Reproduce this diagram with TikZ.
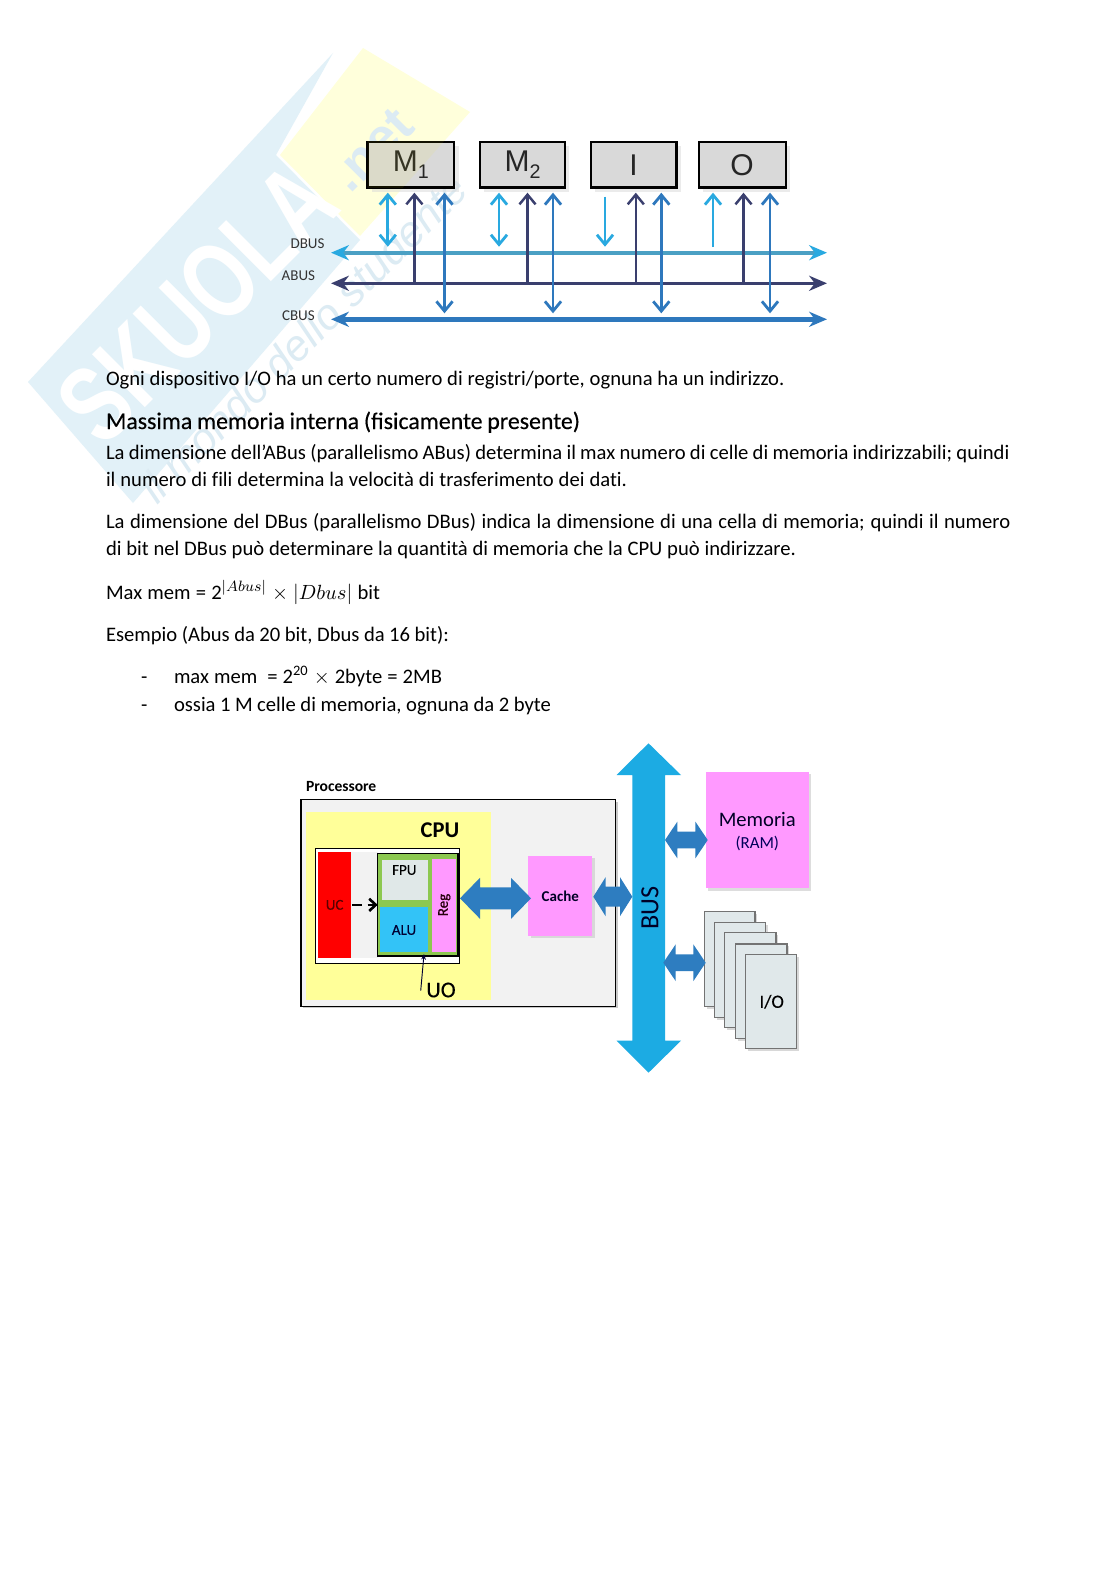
\documentclass[tikz,border=0pt]{standalone}
\usepackage{fontspec}
\setmainfont[Ligatures=NoCommon]{Carlito}
\newfontfamily\arialf{Liberation Sans}
\newfontfamily\semif[FakeBold=0.35]{Carlito}
\usetikzlibrary{arrows.meta,shadows,calc}
\def\px{0.5332pt}
\definecolor{wmblue}{HTML}{E2F1F8}
\definecolor{wmyel}{HTML}{FFFFDB}
\definecolor{wmtext}{HTML}{DCEBF3}
\definecolor{dcol}{HTML}{29A9E0}
\definecolor{dbar}{HTML}{4BA0C4}
\definecolor{acol}{HTML}{3A3F6E}
\definecolor{ccol}{HTML}{2E78BD}
\definecolor{pinkc}{HTML}{FF99FF}
\definecolor{yelc}{HTML}{FFFF99}
\definecolor{procc}{HTML}{F2F2F2}
\definecolor{greenc}{HTML}{8CC850}
\definecolor{busc}{HTML}{1CABE3}
\definecolor{blockc}{HTML}{2E7DC0}
\definecolor{cardc}{HTML}{E0E8EA}
\definecolor{fpuc}{HTML}{E0E8E8}
\definecolor{aluc}{HTML}{33C3F7}
\newcommand{\rectnode}[7]{%
  \pgfmathsetmacro\cxx{(#3+#5)/2}%
  \pgfmathsetmacro\cyy{(#4+#6)/2}%
  \node[#1,minimum width={(#5-#3)*\px},minimum height={(#6-#4)*\px}] (#2) at (\cxx,\cyy) {#7};}
% horizontal two-headed block arrow: left tip, right tip, centre y, half shaft, half head, head length
\newcommand{\harrow}[6]{%
  \fill[blockc] (#1,#3) -- ++(#6,-#5) -- ++(0,#5-#4) -- ({#2-#6},{#3-#4}) -- ++(0,#4-#5) -- (#2,#3)
     -- ({#2-#6},{#3+#5}) -- ++(0,#4-#5) -- ({#1+#6},{#3+#4}) -- ++(0,#5-#4) -- cycle;}
\newcommand{\fitline}[2]{\makebox[#1\dimexpr\px\relax][s]{#2}}
\tikzset{
  x=0.5332pt,y=-0.5332pt,
  plain/.style={inner sep=0pt,outer sep=0pt},
  softshadow/.style={drop shadow={shadow xshift=1.2pt,shadow yshift=-1.2pt,fill=black!22,opacity=.6}},
  devbox/.style={plain,draw=black,line width=1.1pt,fill=black!15,drop shadow={shadow xshift=2.2pt,shadow yshift=-2.2pt,fill=black!15,opacity=.5},text=black!85,font=\arialf\fontsize{16}{16}\selectfont},
  line/.style={plain,anchor=base west,font=\fontsize{11}{13}\selectfont},
  buslabel/.style={plain,font=\fontsize{8}{8}\selectfont,text=black!80},
  barb/.tip={Straight Barb[length=5.2pt,width=8.6pt]},
  dv/.style={draw=dcol,line width=1.5pt},
  av/.style={draw=acol,line width=1.3pt},
  cv/.style={draw=ccol,line width=1.5pt},
  dbus/.style={draw=dbar,line width=2.3pt,{Stealth[length=9.5pt,width=8pt,inset=3pt,color=dcol]}-{Stealth[length=9.5pt,width=8pt,inset=3pt,color=dcol]}},
  abus/.style={draw=acol,line width=1.9pt,{Stealth[length=9.5pt,width=8pt,inset=3pt]}-{Stealth[length=9.5pt,width=8pt,inset=3pt]}},
  cbus/.style={draw=ccol,line width=2.5pt,{Stealth[length=9.5pt,width=8pt,inset=3pt]}-{Stealth[length=9.5pt,width=8pt,inset=3pt]}},
  pinkbox/.style={plain,fill=pinkc,softshadow,text=black!85!blue},
  card/.style={plain,fill=cardc,draw=black!55,line width=.6pt,drop shadow={shadow xshift=1.2pt,shadow yshift=-1.2pt,fill=black!30,opacity=.5}},
  small/.style={plain,font=\semif\fontsize{8}{8}\selectfont},
}
\begin{document}
\begin{tikzpicture}
\fill[white] (0,0) rectangle (1116,1579);
\useasboundingbox (0,0) rectangle (1116,1579);

% ---- watermark
\fill[wmyel] (363,48) -- (470,112) -- (360,236) -- (280,155) -- cycle;
\fill[wmblue] (28,382) -- (333,53) -- (276,155) -- (360,240) -- (133,503) -- cycle;
\node[plain,rotate=45,text=white,font=\arialf\bfseries\fontsize{58}{58}\selectfont] (wm1) at (197,303) {\scalebox{.74}[1]{SKUOLA}};
\node[plain,rotate=45,text=wmtext,font=\arialf\bfseries\fontsize{28}{28}\selectfont] (wm2) at (372,150) {.net};
\node[plain,rotate=45,text=wmtext,font=\arialf\itshape\fontsize{23}{23}\selectfont] (wm3) at (303,338) {il mondo dello studente};

% ---- upper diagram
\rectnode{devbox}{m1}{367.5}{142}{454.4}{187.5}{M\raisebox{-3.5pt}{\fontsize{10.5}{10.5}\selectfont 1}}
\rectnode{devbox}{m2}{479.8}{142}{565.3}{187.5}{M\raisebox{-3.5pt}{\fontsize{10.5}{10.5}\selectfont 2}}
\rectnode{devbox}{io}{590.7}{142}{676.5}{187.5}{I}
\rectnode{devbox}{oo}{698.7}{142}{785.6}{187.5}{O}
\begin{scope}
  \clip (m1.south west) rectangle (m1.north east);
  \fill[yellow,opacity=.07] (363,48) -- (470,112) -- (360,236) -- (280,155) -- cycle;
\end{scope}

\coordinate (dl) at (331,252.7); \coordinate (dr) at (827,252.7);
\coordinate (al) at (331,283.3); \coordinate (ar) at (827,283.3);
\coordinate (cl) at (331,319.3); \coordinate (cr) at (827,319.3);
\draw[dbus] (dl) -- (dr);
\draw[abus] (al) -- (ar);
\draw[cbus] (cl) -- (cr);

\node[buslabel] (dlab) at (307.5,243.5) {DBUS};
\node[buslabel] (alab) at (298.4,275.5) {ABUS};
\node[buslabel] (clab) at (298.4,315.5) {CBUS};

\foreach \nm/\xd/\xa/\xc in {a/387.8/414.4/444.5,b/499/527.5/553,c/605/635.8/661.3,d/713/743.5/770}{
  \coordinate (\nm dt) at (\xd,192.7); \coordinate (\nm db) at (\xd,246.7);
  \coordinate (\nm at) at (\xa,192.7); \coordinate (\nm ab) at (\xa,283.3);
  \coordinate (\nm ct) at (\xc,192.7); \coordinate (\nm cb) at (\xc,313.3);
  \draw[av,-{barb}] (\nm ab) -- (\nm at);
  \draw[cv,{barb}-{barb}] (\nm ct) -- (\nm cb);
}
\draw[dv,{barb}-{barb}] (adt) -- (adb);
\draw[dv,{barb}-{barb}] (bdt) -- (bdb);
\coordinate (cds) at (605,196.7);
\draw[dv,-{barb}] (cds) -- (cdb);
\coordinate (dds) at (713,247);
\draw[dv,-{barb}] (dds) -- (ddt);

% ---- text
\node[line] (t1) at (106,385) {\fitline{678.5}{Ogni dispositivo I/O ha un certo numero di registri/porte, ognuna ha un indirizzo.}};
\node[line,font=\semif\fontsize{12.7}{15}\selectfont] (t2) at (106,429) {\fitline{474}{Massima memoria interna (fisicamente presente)}};
\node[line] (t3) at (106,459) {\fitline{903.5}{La dimensione dell’ABus (parallelismo ABus) determina il max numero di celle di memoria indirizzabili; quindi}};
\node[line] (t4) at (106,486) {\fitline{521}{il numero di fili determina la velocità di trasferimento dei dati.}};
\node[line] (t5) at (106,528) {\fitline{904.5}{La dimensione del DBus (parallelismo DBus) indica la dimensione di una cella di memoria; quindi il numero}};
\node[line] (t6) at (106,555) {\fitline{690}{di bit nel DBus può determinare la quantità di memoria che la CPU può indirizzare.}};
\node[line] (t7) at (106,599) {\fitline{274}{Max mem = 2$^{|Abus|}$ $\times$ $|Dbus|$ bit}};
\node[line] (t8) at (106,641) {\fitline{343}{Esempio (Abus da 20 bit, Dbus da 16 bit):}};
\node[line] (d1) at (141,683) {-};
\node[line] (t9) at (174,683) {\fitline{268}{max mem\ \ = 2\textsuperscript{20} $\times$ 2byte = 2MB}};
\node[line] (d2) at (141,711) {-};
\node[line] (t10) at (174,711) {\fitline{377}{ossia 1 M celle di memoria, ognuna da 2 byte}};

% ---- lower diagram
\node[plain,anchor=base west,font=\bfseries\fontsize{8.3}{8}\selectfont] (plab) at (306,791.5) {Processore};
\rectnode{plain,draw=black,line width=.6pt,fill=procc,drop shadow={shadow xshift=1pt,shadow yshift=-1pt,fill=black!35,opacity=.6}}{proc}{301}{799.7}{615.7}{1006.3}{}
\rectnode{plain,fill=yelc}{cpu}{305.7}{812.3}{491}{1000}{}
\node[plain,font=\bfseries\fontsize{12}{12}\selectfont] (cpulab) at (440,830) {CPU};
\rectnode{plain,fill=white,draw=black,line width=.6pt}{inner}{315.7}{848.7}{459.3}{963.3}{}
\rectnode{plain,fill=procc}{gap}{351}{852}{377.7}{957.7}{}
\rectnode{plain,fill=red,text=red!35!black,font=\semif\fontsize{8}{8}\selectfont}{uc}{318.3}{852}{351}{957.7}{UC}
\rectnode{plain,fill=greenc,draw=black,line width=.6pt}{uo}{377.7}{853.7}{458}{956}{}
\rectnode{plain,fill=fpuc}{fpu}{381.7}{859.7}{428.3}{900}{}
\node[small] (fpulab) at (404.3,870) {FPU};
\rectnode{plain,fill=aluc}{alu}{380.3}{907.3}{427.7}{952}{}
\node[small,text=black!80!blue] (alulab) at (404,930) {ALU};
\rectnode{plain,fill=pinkc}{reg}{431.7}{858.7}{456.3}{952}{}
\node[small,rotate=90,text=black!80!purple] (reglab) at (444.3,905) {Reg};
\draw[black,line width=1.4pt,dash pattern=on 5.5pt off 3pt,shorten <=.5pt] (uc.east) -- (uo.west);
\draw[black,line width=1.4pt,-{Straight Barb[length=3.5pt,width=6.5pt]}] ($(uo.west)+(-10,0)$) -- (uo.west);
\node[plain,font=\semif\fontsize{12}{12}\selectfont] (uolab) at (441,990) {UO};
\coordinate (uop) at (420.7,990.7);
\coordinate (uoq) at (424,954);
\draw[black!80!blue,line width=.5pt,-{Stealth[length=3pt,width=2.5pt]}] (uop) -- (uoq);

\rectnode{pinkbox,font=\bfseries\fontsize{8}{8}\selectfont}{cache}{528.3}{856}{592.3}{936}{Cache}
\rectnode{pinkbox}{mem}{706}{771.7}{809}{888.3}{}
\node[plain,text=black!85!blue,font=\fontsize{11}{11}\selectfont] (memlab) at (757.3,819.3) {Memoria};
\node[plain,text=black!65!blue,font=\fontsize{9}{9}\selectfont] (ramlab) at (757.3,843.3) {(RAM)};

\rectnode{card}{c1}{704.3}{911.7}{755}{1006.7}{}
\rectnode{card}{c2}{714.3}{922.3}{765.7}{1017.7}{}
\rectnode{card}{c3}{724.3}{932.7}{776}{1027.7}{}
\rectnode{card}{c4}{735.3}{944}{787}{1038.3}{}
\rectnode{card}{c5}{745.3}{954.3}{796.7}{1048.3}{}
\node[plain,font=\semif\fontsize{10}{10}\selectfont] (iolab) at (771.7,1001.7) {I/O};

% bus
\fill[busc] (648.5,743.3) -- (681,775) -- (665,775) -- (665,1040.7) -- (681,1040.7) -- (648.5,1072.7)
   -- (616.5,1040.7) -- (632.3,1040.7) -- (632.3,775) -- (616.5,775) -- cycle;
\coordinate (bus) at (648.5,908);
\node[plain,rotate=90,text=black!85!blue,font=\fontsize{14}{14}\selectfont] (buslab) at (650,907.7) {BUS};

% block arrows
\harrow{460}{531}{898.3}{11}{20.5}{20}
\harrow{593.3}{632.3}{896.7}{10}{19.5}{12.3}
\harrow{665}{707.7}{840}{8.3}{18.3}{12.3}
\harrow{663.3}{705.7}{962.7}{8.3}{18.3}{12.3}
\end{tikzpicture}
\end{document}
